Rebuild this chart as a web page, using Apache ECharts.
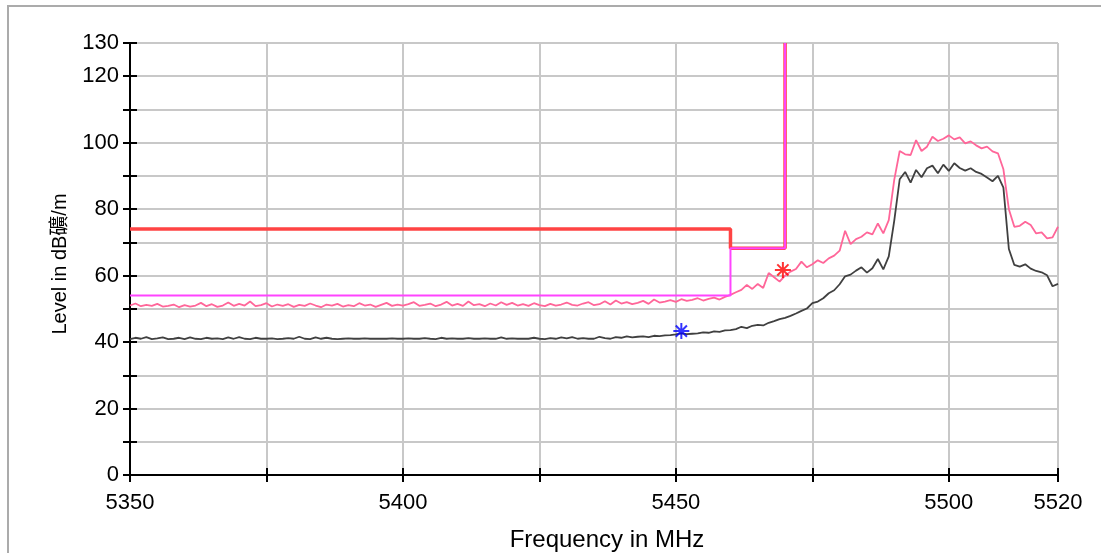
<!DOCTYPE html>
<html>
<head>
<meta charset="utf-8">
<script src="https://cdn.jsdelivr.net/npm/echarts@6/dist/echarts.min.js"></script>
<style>
html, body { margin: 0; padding: 0; background: #fff; }
#main { width: 1101px; height: 553px; }
</style>
</head>
<body>
<div id="main"></div>
<script>
// frequency axis, MHz, one sample per MHz
var freqStart = 5350;
var freqEnd = 5520;

// peak trace (pink), dBuV/m
var peakLevels = [
	51.0, 51.6, 50.8, 51.2, 50.9, 51.5, 50.7, 50.9, 51.3, 50.5,
	51.1, 50.7, 51.0, 51.8, 50.8, 51.4, 50.6, 51.0, 51.9, 50.9,
	51.5, 51.0, 52.2, 50.8, 51.1, 51.7, 50.7, 51.3, 50.9, 51.4,
	50.6, 51.2, 50.9, 51.6, 51.0, 50.5, 51.3, 51.0, 51.5, 50.7,
	51.1, 50.8, 51.7, 51.0, 51.3, 50.6, 51.2, 51.8, 50.9, 51.3,
	51.0, 51.4, 52.0, 50.9, 51.2, 51.6, 50.8, 51.3, 52.1, 51.0,
	51.5, 50.9, 52.2, 51.1, 51.4, 50.8, 51.6, 51.0, 52.0, 51.2,
	51.8, 51.0, 51.4, 50.9, 51.7, 51.1, 50.8, 51.5, 51.0, 51.3,
	51.9, 51.2, 51.0, 51.6, 52.0, 51.1, 51.4, 52.3, 51.3, 52.5,
	51.6, 52.0, 51.4, 51.8, 52.4, 51.5, 52.8, 51.9, 52.2, 52.6,
	52.1, 52.9, 52.4, 52.7, 53.2, 52.5, 53.0, 53.4, 52.8, 53.6,
	54.2, 55.0, 55.7, 57.2, 56.0, 57.5, 56.3, 60.8, 59.5, 58.2,
	60.0, 61.2, 62.0, 64.2, 62.5, 63.4, 64.6, 63.8, 65.2, 66.0,
	67.5, 73.5, 69.5, 71.0, 71.7, 73.0, 72.4, 75.7, 72.7, 76.7,
	88.8, 97.5, 96.5, 96.3, 100.8, 97.5, 98.8, 101.8, 100.5, 101.2,
	102.2, 101.0, 101.6, 99.8, 100.4, 99.2, 98.3, 98.8, 97.4, 96.8,
	92.0, 80.0, 74.7, 75.0, 76.2, 75.2, 72.7, 73.0, 71.2, 71.5,
	74.7
];

// average trace (dark grey), dBuV/m
var avgLevels = [
	40.9, 41.3, 41.0, 41.5, 40.9, 41.1, 41.4, 40.9, 41.0, 41.3,
	40.9, 41.4, 41.0, 40.9, 41.3, 41.0, 41.1, 40.9, 41.4, 41.0,
	41.5, 41.0, 40.9, 41.3, 41.0, 41.0, 41.1, 40.9, 41.0, 41.2,
	41.0, 41.6, 41.0, 40.9, 41.4, 41.0, 41.3, 41.0, 40.9, 41.0,
	41.1, 41.0, 41.0, 41.1, 41.0, 41.0, 41.0, 41.0, 41.1, 41.0,
	41.0, 41.1, 41.0, 41.0, 41.2, 41.0, 40.9, 41.3, 41.0, 41.1,
	41.0, 41.0, 41.2, 41.0, 41.0, 41.1, 41.0, 41.0, 41.4, 41.0,
	41.1, 41.0, 41.0, 41.0, 41.3, 41.0, 40.9, 41.2, 41.0, 41.4,
	41.1, 41.5, 41.0, 41.2, 41.0, 41.0, 41.6, 41.2, 41.0, 41.5,
	41.3, 41.7, 41.4, 41.6, 41.7, 41.5, 41.9, 41.8, 42.0, 42.1,
	42.3, 42.6, 42.4, 42.5, 42.6, 42.9, 42.8, 43.2, 43.1, 43.5,
	43.6, 43.9, 44.6, 44.2, 44.9, 45.2, 45.0, 45.8, 46.3, 46.9,
	47.3, 47.9, 48.6, 49.4, 50.1, 51.7, 52.2, 53.2, 54.7, 55.6,
	57.4, 59.8, 60.3, 61.5, 62.5, 60.9, 62.2, 65.0, 61.9, 65.8,
	76.5, 89.0, 91.2, 88.0, 91.8, 89.6, 92.3, 93.1, 90.8, 93.4,
	91.5, 93.8, 92.4, 91.6, 92.3, 91.2, 90.6, 89.5, 88.4, 90.0,
	86.5, 68.0, 63.2, 62.7, 63.4, 62.1, 61.4, 61.0, 60.1, 56.8,
	57.5
];

// limit lines: [MHz, dBuV/m]
var peakLimit = [[5350, 74], [5460, 74], [5460, 68.2], [5470, 68.2], [5470, 130]];
var avgLimit = [[5350, 54], [5460, 54], [5460, 68.2], [5470, 68.2], [5470, 130]];

// markers
var avgMarker = [[5451, 43.3]];
var peakMarker = [[5469.6, 61.7]];

var xLabels = [5350, 5400, 5450, 5500, 5520];
var yLabels = [0, 20, 40, 60, 80, 100, 120, 130];

function toPairs(levels) {
	return levels.map(function (v, i) {
		return [freqStart + i, v];
	});
}

var font = "'Liberation Sans', Arial, 'Noto Sans CJK TC', sans-serif";
var star = 'path://M0,-10L0,10M-10,0L10,0M-7,-7L7,7M-7,7L7,-7';

var myChart = echarts.init(document.getElementById('main'));

var option = {
	backgroundColor: '#fff',
	animation: false,
	grid: { left: 130, right: 43, top: 43, bottom: 78 },
	graphic: [{
		type: 'rect',
		shape: { x: 8, y: 6, width: 1200, height: 700 },
		style: { fill: 'none', stroke: '#ababab', lineWidth: 2 },
		silent: true
	}, {
		type: 'text',
		x: 607, y: 540,
		style: {
			text: 'Frequency in MHz', font: '24px ' + font,
			fill: '#000', align: 'center', verticalAlign: 'middle'
		}
	}, {
		type: 'text',
		x: 60, y: 264, rotation: Math.PI / 2,
		style: {
			text: 'Level in dB礦/m', font: '20px ' + font,
			fill: '#000', align: 'center', verticalAlign: 'middle'
		}
	}],
	xAxis: [{
		type: 'value',
		min: freqStart, max: freqEnd, interval: 25,
		axisLine: { onZero: false, lineStyle: { color: '#000', width: 2 } },
		axisTick: { length: 7, lineStyle: { color: '#000', width: 2 } },
		axisLabel: {
			color: '#000', fontSize: 22, fontFamily: font, margin: 17,
			formatter: function (v) { return xLabels.indexOf(v) >= 0 ? String(v) : ''; }
		},
		splitLine: { lineStyle: { color: '#c8c8c8', width: 2 } }
	}, {
		type: 'value', position: 'bottom',
		min: freqStart, max: freqEnd, interval: 25,
		axisLine: { show: false },
		axisTick: { inside: true, length: 7, lineStyle: { color: '#000', width: 2 } },
		axisLabel: { show: false },
		splitLine: { show: false }
	}],
	yAxis: [{
		type: 'value',
		min: 0, max: 130, interval: 10,
		axisLine: { show: true, lineStyle: { color: '#000', width: 2 } },
		axisTick: { show: true, length: 7, lineStyle: { color: '#000', width: 2 } },
		axisLabel: {
			color: '#000', fontSize: 22, fontFamily: font, margin: 11,
			formatter: function (v) { return yLabels.indexOf(v) >= 0 ? String(v) : ''; }
		},
		splitLine: { lineStyle: { color: '#c8c8c8', width: 2 } }
	}, {
		type: 'value', position: 'left',
		min: 0, max: 130, interval: 10,
		axisLine: { show: false },
		axisTick: { show: true, inside: true, length: 7, lineStyle: { color: '#000', width: 2 } },
		axisLabel: { show: false },
		splitLine: { show: false }
	}],
	series: [{
		type: 'line', name: 'avg', data: toPairs(avgLevels),
		showSymbol: false, z: 3,
		lineStyle: { color: '#404040', width: 1.8 }
	}, {
		type: 'line', name: 'peak', data: toPairs(peakLevels),
		showSymbol: false, z: 3,
		lineStyle: { color: '#ff6699', width: 1.8 }
	}, {
		type: 'line', name: 'peak limit', data: peakLimit,
		showSymbol: false, z: 4,
		lineStyle: { color: '#ff4444', width: 3.5 }
	}, {
		type: 'line', name: 'avg limit', data: avgLimit,
		showSymbol: false, z: 5,
		lineStyle: { color: '#ff44ff', width: 2 }
	}, {
		type: 'scatter', data: avgMarker, symbol: star, symbolSize: 16, z: 6,
		itemStyle: { color: 'none', borderColor: '#0000ff', borderWidth: 2 }
	}, {
		type: 'scatter', data: peakMarker, symbol: star, symbolSize: 16, z: 6,
		itemStyle: { color: 'none', borderColor: '#ff0000', borderWidth: 2 }
	}]
};

myChart.setOption(option);
</script>
</body>
</html>
